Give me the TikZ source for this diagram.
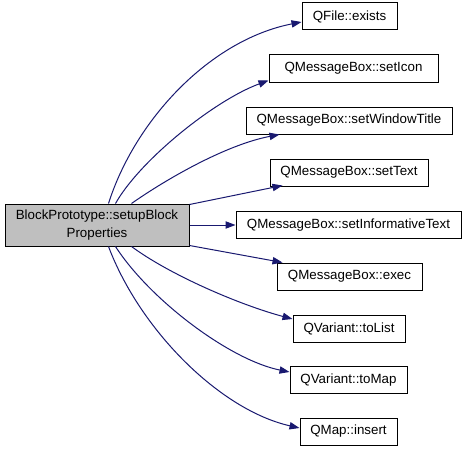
\documentclass[tikz,border=0pt]{standalone}
\usepackage{fontspec}
\setmainfont{Liberation Sans}
\usetikzlibrary{arrows.meta,calc}
\definecolor{edgeblue}{HTML}{191970}
\definecolor{mainfill}{HTML}{BFBFBF}
\begin{document}
\begin{tikzpicture}[x=0.75pt,y=-0.75pt,
  fn/.style={draw=black,line width=0.75pt,fill=white,inner sep=0pt,minimum height=20.25pt,font=\fontsize{10}{12}\selectfont,align=center},
  call/.style={draw=edgeblue,line width=0.75pt,-{Triangle[length=7.5pt,width=5.5pt]}}]
\useasboundingbox[fill=white] (0,0) rectangle (467,453);
\node[fn,fill=mainfill,minimum width=184*0.75pt,minimum height=42*0.75pt,font=\fontsize{10}{13}\selectfont] (main) at (97,225) {BlockPrototype::setupBlock\\Properties};
\node[fn,minimum width=95*0.75pt] (exists) at (349.5,16.5) {QFile::exists};
\node[fn,minimum width=169*0.75pt] (seticon) at (353.5,68.5) {QMessageBox::setIcon};
\node[fn,minimum width=206*0.75pt] (settitle) at (349,120.5) {QMessageBox::setWindowTitle};
\node[fn,minimum width=158*0.75pt] (settext) at (349,172.5) {QMessageBox::setText};
\node[fn,minimum width=225*0.75pt] (setinfo) at (348.5,225) {QMessageBox::setInformativeText};
\node[fn,minimum width=145*0.75pt] (exec) at (349.5,276.5) {QMessageBox::exec};
\node[fn,minimum width=112*0.75pt] (tolist) at (349,328.5) {QVariant::toList};
\node[fn,minimum width=117*0.75pt] (tomap) at (348.5,380) {QVariant::toMap};
\node[fn,minimum width=97*0.75pt] (insert) at (348.5,431.5) {QMap::insert};
\draw[call] ($(main.north west)+(104,0)$) .. controls (135,120) and (210,40) .. ($(exists.west)+(0,5.5)$);
\draw[call] ($(main.north west)+(111,0)$) .. controls (140,160) and (215,100) .. ($(seticon.south west)+(0,-2)$);
\draw[call] ($(main.north west)+(127,0)$) .. controls (165,180) and (225,145) .. ($(settitle.south west)+(34,0)$);
\draw[call] ($(main.north east)+(0,1)$) -- ($(settext.south west)+(13,-1)$);
\draw[call] (main.east) -- (setinfo.west);
\draw[call] ($(main.south east)+(0,-1)$) -- ($(exec.north west)+(6,0)$);
\draw[call] ($(main.south west)+(127,0)$) .. controls (170,275) and (240,305) .. ($(tolist.west)+(0,-9.5)$);
\draw[call] ($(main.south west)+(111,0)$) .. controls (150,300) and (230,360) .. ($(tomap.west)+(0,-8)$);
\draw[call] ($(main.south west)+(104,0)$) .. controls (140,330) and (220,410) .. ($(insert.west)+(0,-3.5)$);
\end{tikzpicture}
\end{document}
